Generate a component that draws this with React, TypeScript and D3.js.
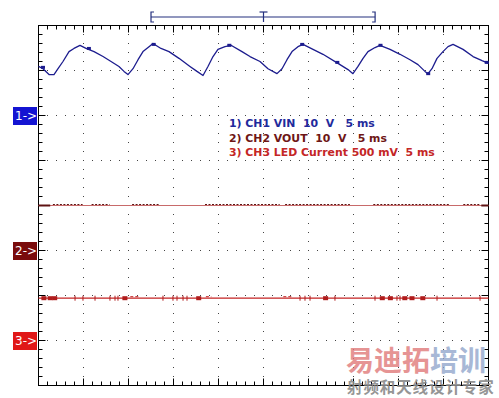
import React from "react"
import * as d3 from "d3"

// scope setup: 10 divisions of 5 ms, 8 vertical divisions
const timeDomain = [0, 50]
const divDomain = [-4, 4]

// CH1 VIN (V), 10 V/div, marker at +2 div
const ch1Time = [0, 0.5, 1.17, 1.72, 2.17, 2.72, 3.39, 3.94, 4.61, 5.28, 6.17, 7.17, 8.06, 8.94, 9.5, 9.94,
    10.5, 11.06, 11.61, 12.28, 12.72, 13.61, 14.5, 15.61, 16.83, 17.61, 18.28, 18.83, 19.39, 19.94, 20.72,
    21.39, 22.61, 23.5, 24.61, 25.5, 26.5, 27.06, 27.61, 28.17, 28.83, 29.39, 30.5, 31.61, 33.5, 34.39, 34.94,
    35.5, 36.06, 36.61, 37.39, 37.94, 39.06, 40.17, 41.28, 42.17, 42.94, 43.28, 43.72, 44.28, 44.94, 45.5,
    46.06, 47.17, 48.28, 49.28, 50]
const ch1Volts = [10.9, 10.4, 9.1, 9.1, 10.4, 12.0, 14.2, 14.9, 15.6, 14.9, 14.2, 13.1, 12.0, 10.9, 9.8, 9.1,
    10.4, 12.4, 14.2, 15.3, 16.0, 14.9, 14.2, 12.7, 10.9, 9.8, 8.9, 10.9, 13.1, 14.7, 15.3,
    15.6, 14.2, 13.1, 12.0, 10.4, 9.3, 10.4, 12.4, 14.2, 15.3, 15.8, 14.7, 13.6, 11.3, 10.2, 9.3,
    10.9, 12.7, 14.2, 15.1, 15.6, 14.7, 13.6, 12.4, 11.3, 9.8, 9.3, 10.4, 12.7, 14.2, 15.3,
    15.8, 14.7, 13.1, 12.2, 11.6]
const ch1BlobTime = [0.5, 5.6, 12.8, 21.2, 29.3, 33.2, 38.0, 43.3, 49.8]
const ch1BlobVolts = [10.7, 14.9, 15.8, 15.6, 15.8, 11.8, 15.6, 9.3, 11.8]

// CH2 VOUT (V), 10 V/div, marker at -1 div
const ch2Level = 10.0
const ch2Noise = [[1.6, 4.9], [5.9, 7.9], [10.4, 13.5], [18.5, 26.8], [27.4, 34.6], [37.2, 45.7], [47.2, 49.1]]
const ch2Thick = [[0, 1.3], [49.2, 50]]

// CH3 LED current (V), 0.5 V/div, marker at -3 div
const ch3Level = 0.47
const ch3Spikes = [4.06, 4.94, 6.28, 7.94, 8.5, 8.83, 13.83, 14.94, 15.39, 16.06, 16.5, 29.06, 29.61, 30.17,
    32.94, 37.39, 39.83, 40.17, 44.28, 49.06]
const ch3Blobs = [0.6, 1.3, 1.8, 9.6, 17.8, 31.9, 38.2, 39.1, 40.7, 41.5, 42.7]
const ch3Bumps = [[10.2, 11.3], [18.6, 19.2], [27.2, 28.2]]

const legendLines = ["1) CH1 VIN  10  V   5 ms", "2) CH2 VOUT  10  V   5 ms", "3) CH3 LED Current 500 mV  5 ms"]
const legendColors = ["#1f2a9c", "#6e1616", "#c42626"]

const markers = [
    { label: "1->", div: 2, color: "#1414d2" },
    { label: "2->", div: -1, color: "#7a0c0c" },
    { label: "3->", div: -3, color: "#e01818" },
]

const W = 499, H = 398

export default function App() {
    const x = d3.scaleLinear().domain(timeDomain).range([38.5, 488.5])
    const yDiv = d3.scaleLinear().domain(divDomain).range([385.5, 25.5])
    const y1 = (v: number) => yDiv(v / 10 + 2)
    const y2 = (v: number) => yDiv(v / 10 - 1)
    const y3 = (v: number) => yDiv(v / 0.5 - 3)

    const ch1Line = d3.line<number>()
        .x((d, i) => x(ch1Time[i]))
        .y(d => y1(d))
        (ch1Volts)

    const isMajor = (v: number, step: number) => Math.abs(v / step - Math.round(v / step)) < 1e-6
    const tTicks = d3.range(0, 50.001, 1)
    const vTicks = d3.range(-4, 4.001, 0.2)
    const vGrid = d3.range(5, 50, 5)
    const hGrid = d3.range(-3, 4, 1)

    const dots: [number, number][] = []
    vGrid.forEach(t => vTicks.forEach(v => dots.push([x(t), yDiv(v)])))
    hGrid.forEach(v => tTicks.forEach(t => dots.push([x(t), yDiv(v)])))

    const x0 = x(0), x1 = x(50), yTop = yDiv(4), yBot = yDiv(-4)
    const font = "'DejaVu Sans', Verdana, sans-serif"

    return (
        <svg width={W} height={H} style={{ position: "absolute", left: 0, top: 0, background: "#fff" }}>
            <rect width={W} height={H} fill="#fff" />
            {/* grid dots */}
            {dots.map(([dx, dy], i) => (
                <rect key={i} x={Math.floor(dx)} y={Math.floor(dy)} width={1} height={1} fill="#444" />
            ))}

            {/* frame and ticks */}
            <rect x={x0} y={yTop} width={x1 - x0} height={yBot - yTop} fill="none" stroke="#000" strokeWidth={1} />
            {tTicks.map(t => {
                const len = isMajor(t, 5) ? 7 : 4
                return <g key={"t" + t}>
                    <line x1={x(t)} x2={x(t)} y1={yTop} y2={yTop + len} stroke="#000" />
                    <line x1={x(t)} x2={x(t)} y1={yBot} y2={yBot - len} stroke="#000" />
                </g>
            })}
            {vTicks.map(v => {
                const len = isMajor(v, 1) ? 7 : 4
                return <g key={"v" + v}>
                    <line x1={x0} x2={x0 + len} y1={yDiv(v)} y2={yDiv(v)} stroke="#000" />
                    <line x1={x1} x2={x1 - len} y1={yDiv(v)} y2={yDiv(v)} stroke="#000" />
                </g>
            })}

            {/* time bracket */}
            <g stroke="#24307e" strokeWidth={1.2} fill="none">
                <line x1={x(12.5)} x2={x(37.4)} y1={17} y2={17} />
                <path d={`M${x(12.5) + 3},12 H${x(12.5)} V22 H${x(12.5) + 3}`} />
                <path d={`M${x(37.4) - 3},12 H${x(37.4)} V22 H${x(37.4) - 3}`} />
                <line x1={x(25) - 4} x2={x(25) + 4} y1={12} y2={12} />
                <line x1={x(25)} x2={x(25)} y1={12} y2={22} />
            </g>

            {/* CH1 */}
            <path d={ch1Line ?? ""} fill="none" stroke="#1c1c8e" strokeWidth={1.3} strokeLinejoin="round" />
            {ch1BlobTime.map((t, i) => (
                <rect key={"b1" + i} x={x(t) - 2} y={y1(ch1BlobVolts[i]) - 1.5} width={4} height={3} fill="#1c1c8e" />
            ))}

            {/* CH2 */}
            <line x1={x0} x2={x1} y1={y2(ch2Level)} y2={y2(ch2Level)} stroke="#c86a6a" strokeWidth={1} />
            {ch2Noise.map(([a, b], i) => (
                <line key={"n2" + i} x1={x(a)} x2={x(b)} y1={y2(ch2Level) - 1} y2={y2(ch2Level) - 1}
                    stroke="#5e1212" strokeWidth={1} strokeDasharray="2,1.5" />
            ))}
            {ch2Thick.map(([a, b], i) => (
                <line key={"k2" + i} x1={x(a)} x2={x(b)} y1={y2(ch2Level)} y2={y2(ch2Level)} stroke="#5e1212" strokeWidth={2} />
            ))}

            {/* CH3 */}
            <line x1={x0} x2={x1} y1={y3(ch3Level)} y2={y3(ch3Level)} stroke="#c42222" strokeWidth={1.2} />
            {ch3Bumps.map(([a, b], i) => (
                <line key={"u3" + i} x1={x(a)} x2={x(b)} y1={y3(ch3Level) - 1.5} y2={y3(ch3Level) - 1.5}
                    stroke="#c42222" strokeWidth={1} strokeDasharray="3,2" />
            ))}
            {ch3Spikes.map((t, i) => (
                <line key={"s3" + i} x1={x(t)} x2={x(t)} y1={y3(ch3Level) - 2.5} y2={y3(ch3Level) + 2.5} stroke="#b01c1c" strokeWidth={1} />
            ))}
            {ch3Blobs.map((t, i) => (
                <rect key={"r3" + i} x={x(t) - 2.5} y={y3(ch3Level) - 2} width={5} height={4} fill="#b01c1c" />
            ))}

            {/* channel markers */}
            {markers.map(m => {
                const my = Math.floor(yDiv(m.div))
                return <g key={m.label}>
                    <rect x={13} y={my - 8} width={24} height={18} fill={m.color} />
                    <text x={15} y={my + 5} fill="#fff" fontFamily={font} fontSize={12}>{m.label}</text>
                </g>
            })}

            {/* legend */}
            {legendLines.map((s, i) => (
                <text key={s} x={229} y={127 + i * 14.5} fill={legendColors[i]} fontFamily={font}
                    fontWeight="bold" fontSize={10.9} style={{ whiteSpace: "pre" }}>{s}</text>
            ))}

            {/* watermark */}
            <text x={346} y={371} fontFamily="'Noto Sans CJK SC', sans-serif" fontWeight="bold" fontSize={28} opacity={0.8}>
                <tspan fill="#e07a7a">易迪拓</tspan><tspan fill="#93a7cc">培训</tspan>
            </text>
            <text x={347} y={393} fontFamily="'Noto Sans CJK SC', sans-serif" fontWeight="bold" fontSize={15.5}
                letterSpacing={0.9} fill="#8a8a8a" opacity={0.9}>射频和天线设计专家</text>
        </svg>
    )
}
